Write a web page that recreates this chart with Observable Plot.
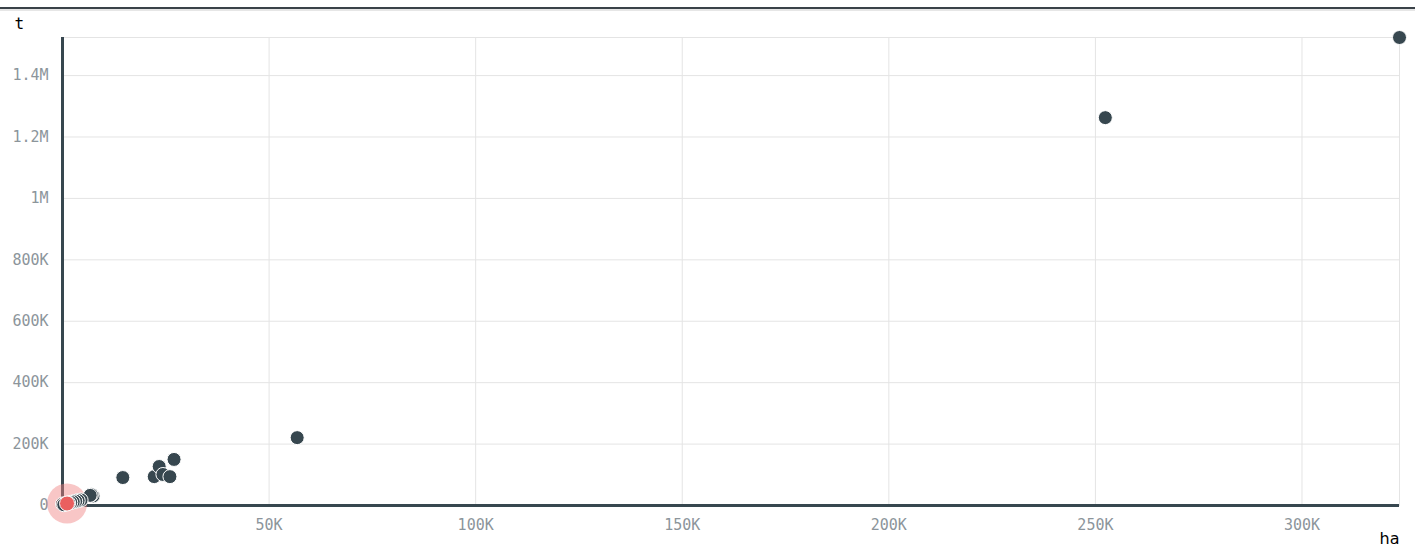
<!DOCTYPE html>
<html>
<head>
<meta charset="utf-8">
<script src="https://cdn.jsdelivr.net/npm/d3@7"></script>
<script src="https://cdn.jsdelivr.net/npm/@observablehq/plot@0.6"></script>
<style>
  html, body { margin: 0; padding: 0; background: #fff; }
  #top { height: 7px; border-bottom: 2px solid #3a4248; }
  #band { height: 2px; background: #e6e6e6; }
  #chart svg { display: block; }
</style>
</head>
<body>
<div id="top"></div>
<div id="band"></div>
<div id="chart"></div>
<script>
// area harvested (ha) vs production (t)
const areaHa = [323600, 252400, 56800, 14600, 22200, 23400, 24300, 26000, 27000, 7400, 7000, 6700, 4500, 3800, 3200, 2600, 2000, 1500, 900, 400, 300];
const prodT  = [1524000, 1263000, 221000, 91000, 94000, 127000, 101000, 94000, 150000, 31000, 35000, 33000, 18000, 16000, 14000, 12000, 10000, 8000, 6000, 4000, 2500];
const highlightHa = [1100];
const highlightT = [6500];
const xTicks = [50000, 100000, 150000, 200000, 250000, 300000];
const yTicks = [0, 200000, 400000, 600000, 800000, 1000000, 1200000, 1400000];

const points = areaHa.map((x, i) => ({x, y: prodT[i]}));
const hl = highlightHa.map((x, i) => ({x, y: highlightT[i]}));
const fmt = v => d3.format("~s")(v).replace("k", "K");

const dark = "#37474f";
const xMax = d3.max(areaHa), yMax = d3.max(prodT);

const plot = Plot.plot({
  width: 1415,
  height: 544,
  marginTop: 26,
  marginLeft: 62,
  marginRight: 16,
  marginBottom: 50,
  style: {fontFamily: "'DejaVu Sans Mono', monospace", fontSize: "15px", background: "#fff", overflow: "visible"},
  x: {domain: [0, xMax], axis: null},
  y: {domain: [0, yMax], axis: null},
  marks: [
    Plot.gridX(xTicks, {stroke: "#e4e4e4", strokeOpacity: 1}),
    Plot.gridY(yTicks, {stroke: "#e4e4e4", strokeOpacity: 1}),
    Plot.frame({stroke: "#e4e4e4"}),
    Plot.axisX(xTicks, {tickSize: 0, tickPadding: 14, tickFormat: fmt, fill: "#8c959b", fontSize: 15, fontFamily: "'DejaVu Sans Mono', monospace", label: null}),
    Plot.axisY(yTicks, {tickSize: 0, tickPadding: 14, tickFormat: fmt, fill: "#8c959b", fontSize: 15, fontFamily: "'DejaVu Sans Mono', monospace", label: null}),
    Plot.ruleX([0], {stroke: dark, strokeWidth: 3}),
    Plot.ruleY([0], {stroke: dark, strokeWidth: 3}),
    Plot.dot(hl, {x: "x", y: "y", r: 20, fill: "#f08080", fillOpacity: 0.45, stroke: null}),
    Plot.dot([{x: 0, y: 5000}], {x: "x", y: "y", r: 7, fill: "#5a3c3e", stroke: "#fff", strokeWidth: 1}),
    Plot.dot(points, {x: "x", y: "y", r: 7, fill: dark, stroke: "#fff", strokeWidth: 1}),
    Plot.dot(hl, {x: "x", y: "y", r: 7.5, fill: "#ea5f5f", stroke: "#fff", strokeWidth: 1}),
    Plot.text(["t"], {frameAnchor: "top-left", dx: -48, dy: -20, fill: "#000", fontSize: 16, fontFamily: "'DejaVu Sans Mono', monospace"}),
    Plot.text(["ha"], {frameAnchor: "bottom-right", dx: 0, dy: 38, fill: "#000", fontSize: 16, fontFamily: "'DejaVu Sans', sans-serif", textAnchor: "end"})
  ]
});
document.getElementById("chart").appendChild(plot);
</script>
</body>
</html>
